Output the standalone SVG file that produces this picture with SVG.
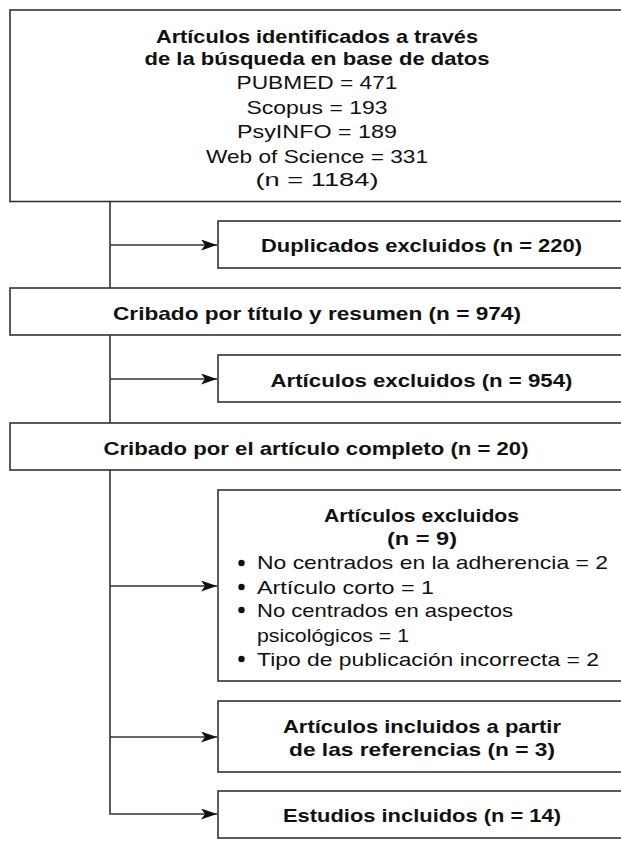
<svg xmlns="http://www.w3.org/2000/svg" width="621" height="850" viewBox="0 0 621 850">
<style>
.box{fill:#fff;stroke:#333;stroke-width:1.6}
.con{fill:none;stroke:#333;stroke-width:1.6}
text{font-family:"Liberation Sans",Arial,sans-serif;font-size:19px;fill:#111}
.b{font-weight:bold}
.c{text-anchor:middle}
</style>
<defs>
<marker id="arr" markerUnits="userSpaceOnUse" markerWidth="18" markerHeight="12" refX="16" refY="5.5" orient="auto">
<path d="M0,0 L16,5.5 L0,11 L4,5.5 Z" fill="#111"/>
</marker>
</defs>
<rect width="621" height="850" fill="#fff"/>
<g id="connectors">
<line class="con" x1="110" y1="201.5" x2="110" y2="288"/>
<path class="con" d="M110,245 H217" marker-end="url(#arr)"/>
<line class="con" x1="110" y1="335" x2="110" y2="423"/>
<path class="con" d="M110,379 H217" marker-end="url(#arr)"/>
<path class="con" d="M110,470 V814 H217" marker-end="url(#arr)"/>
<path class="con" d="M110,586 H217" marker-end="url(#arr)"/>
<path class="con" d="M110,737 H217" marker-end="url(#arr)"/>
</g>
<g id="n-identificados">
<rect class="box" x="10" y="10" width="620" height="191.5"/>
<text class="b c" x="317" y="43" textLength="322" lengthAdjust="spacingAndGlyphs">Artículos identificados a través</text>
<text class="b c" x="317" y="65" textLength="345" lengthAdjust="spacingAndGlyphs">de la búsqueda en base de datos</text>
<text class="c" x="317" y="89" textLength="161" lengthAdjust="spacingAndGlyphs">PUBMED = 471</text>
<text class="c" x="317" y="114" textLength="141" lengthAdjust="spacingAndGlyphs">Scopus = 193</text>
<text class="c" x="317" y="138" textLength="160" lengthAdjust="spacingAndGlyphs">PsyINFO = 189</text>
<text class="c" x="317" y="163" textLength="222" lengthAdjust="spacingAndGlyphs">Web of Science = 331</text>
<text class="c" x="317" y="186" textLength="123" lengthAdjust="spacingAndGlyphs">(n = 1184)</text>
</g>
<g id="n-duplicados">
<rect class="box" x="218" y="221" width="412" height="47"/>
<text class="b c" x="421.5" y="252" textLength="321" lengthAdjust="spacingAndGlyphs">Duplicados excluidos (n = 220)</text>
</g>
<g id="n-cribado-titulo">
<rect class="box" x="10" y="288" width="620" height="47"/>
<text class="b c" x="317" y="320" textLength="408" lengthAdjust="spacingAndGlyphs">Cribado por título y resumen (n = 974)</text>
</g>
<g id="n-excluidos-954">
<rect class="box" x="218" y="355" width="412" height="47"/>
<text class="b c" x="421.5" y="387" textLength="302" lengthAdjust="spacingAndGlyphs">Artículos excluidos (n = 954)</text>
</g>
<g id="n-cribado-completo">
<rect class="box" x="10" y="423" width="620" height="47"/>
<text class="b c" x="316" y="455" textLength="425" lengthAdjust="spacingAndGlyphs">Cribado por el artículo completo (n = 20)</text>
</g>
<g id="n-excluidos-9">
<rect class="box" x="218" y="490" width="412" height="191"/>
<text class="b c" x="421.5" y="522" textLength="195" lengthAdjust="spacingAndGlyphs">Artículos excluidos</text>
<text class="b c" x="422" y="545" textLength="70" lengthAdjust="spacingAndGlyphs">(n = 9)</text>
<circle cx="241.5" cy="563" r="3.2" fill="#111"/>
<circle cx="241.5" cy="587" r="3.2" fill="#111"/>
<circle cx="241.5" cy="610" r="3.2" fill="#111"/>
<circle cx="241.5" cy="659" r="3.2" fill="#111"/>
<text x="257" y="569" textLength="351" lengthAdjust="spacingAndGlyphs">No centrados en la adherencia = 2</text>
<text x="257" y="594" textLength="177" lengthAdjust="spacingAndGlyphs">Artículo corto = 1</text>
<text x="257" y="617" textLength="256" lengthAdjust="spacingAndGlyphs">No centrados en aspectos</text>
<text x="257" y="642" textLength="152" lengthAdjust="spacingAndGlyphs">psicológicos = 1</text>
<text x="257" y="666" textLength="342" lengthAdjust="spacingAndGlyphs">Tipo de publicación incorrecta = 2</text>
</g>
<g id="n-incluidos-ref">
<rect class="box" x="218" y="701" width="412" height="71"/>
<text class="b c" x="422" y="733" textLength="278" lengthAdjust="spacingAndGlyphs">Artículos incluidos a partir</text>
<text class="b c" x="422" y="756" textLength="266" lengthAdjust="spacingAndGlyphs">de las referencias (n = 3)</text>
</g>
<g id="n-estudios">
<rect class="box" x="218" y="791" width="412" height="47"/>
<text class="b c" x="422" y="822" textLength="278" lengthAdjust="spacingAndGlyphs">Estudios incluidos (n = 14)</text>
</g>
</svg>
